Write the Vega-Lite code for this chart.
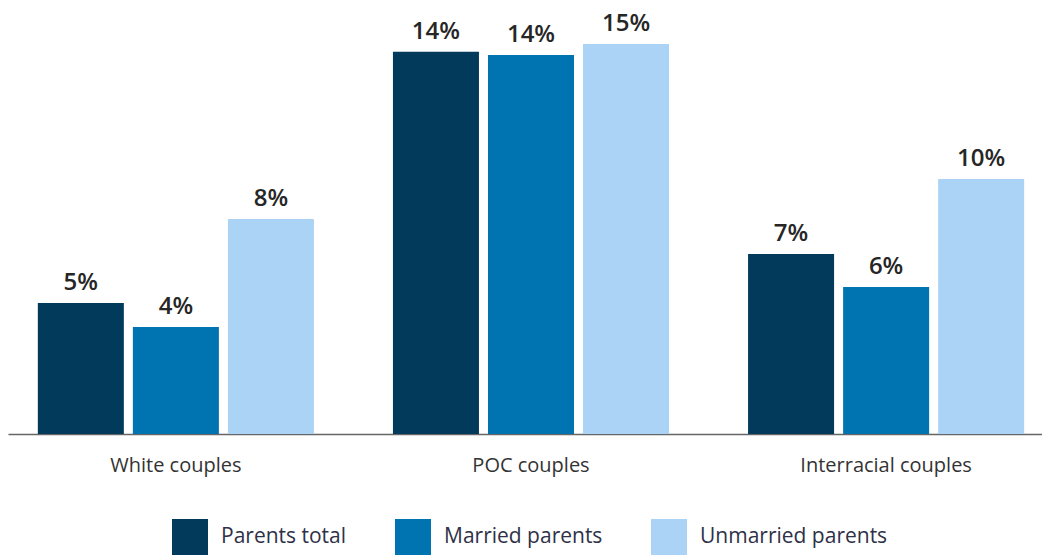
{
  "$schema": "https://vega.github.io/schema/vega-lite/v6.json",
  "width": 1046,
  "height": 424,
  "autosize": {"type": "none"},
  "padding": {"left": 8, "top": 10, "right": 0, "bottom": 123},
  "background": "white",
  "config": {"view": {"stroke": null}, "font": "Open Sans"},
  "data": {
    "values": [
      {"group": "White couples", "series": "Parents total", "value": 0.0494},
      {"group": "White couples", "series": "Married parents", "value": 0.0404},
      {"group": "White couples", "series": "Unmarried parents", "value": 0.0811},
      {"group": "POC couples", "series": "Parents total", "value": 0.1442},
      {"group": "POC couples", "series": "Married parents", "value": 0.1430},
      {"group": "POC couples", "series": "Unmarried parents", "value": 0.1472},
      {"group": "Interracial couples", "series": "Parents total", "value": 0.0679},
      {"group": "Interracial couples", "series": "Married parents", "value": 0.0555},
      {"group": "Interracial couples", "series": "Unmarried parents", "value": 0.0962}
    ]
  },
  "encoding": {
    "x": {
      "field": "group",
      "type": "nominal",
      "sort": ["White couples", "POC couples", "Interracial couples"],
      "scale": {"paddingInner": 0.2225, "paddingOuter": 0.084},
      "axis": {
        "title": null,
        "labelAngle": 0,
        "ticks": false,
        "domainColor": "#666666",
        "domainWidth": 1.5,
        "labelFontSize": 20,
        "labelColor": "#333333",
        "labelPadding": 21,
        "labelLimit": 500
      }
    },
    "xOffset": {
      "field": "series",
      "sort": ["Parents total", "Married parents", "Unmarried parents"],
      "scale": {"paddingInner": 0.095, "paddingOuter": 0}
    },
    "y": {
      "field": "value",
      "type": "quantitative",
      "scale": {"domain": [0, 0.16]},
      "axis": null
    }
  },
  "layer": [
    {
      "mark": {"type": "bar"},
      "encoding": {
        "color": {
          "field": "series",
          "type": "nominal",
          "sort": ["Parents total", "Married parents", "Unmarried parents"],
          "scale": {
            "domain": ["Parents total", "Married parents", "Unmarried parents"],
            "range": ["#023a5c", "#0074b1", "#abd3f5"]
          },
          "legend": {
            "orient": "none",
            "legendX": 164,
            "legendY": 509,
            "direction": "horizontal",
            "title": null,
            "symbolType": "square",
            "symbolSize": 1296,
            "symbolStrokeWidth": 0,
            "symbolOpacity": 1,
            "labelFontSize": 21,
            "labelColor": "#2e3147",
            "labelOffset": 13,
            "labelLimit": 500,
            "columnPadding": 48,
            "padding": 0
          }
        }
      }
    },
    {
      "mark": {
        "type": "text",
        "dy": -13,
        "baseline": "alphabetic",
        "fontSize": 24,
        "fontWeight": 600,
        "color": "#262626"
      },
      "encoding": {
        "text": {"field": "value", "type": "quantitative", "format": ".0%"}
      }
    }
  ]
}
